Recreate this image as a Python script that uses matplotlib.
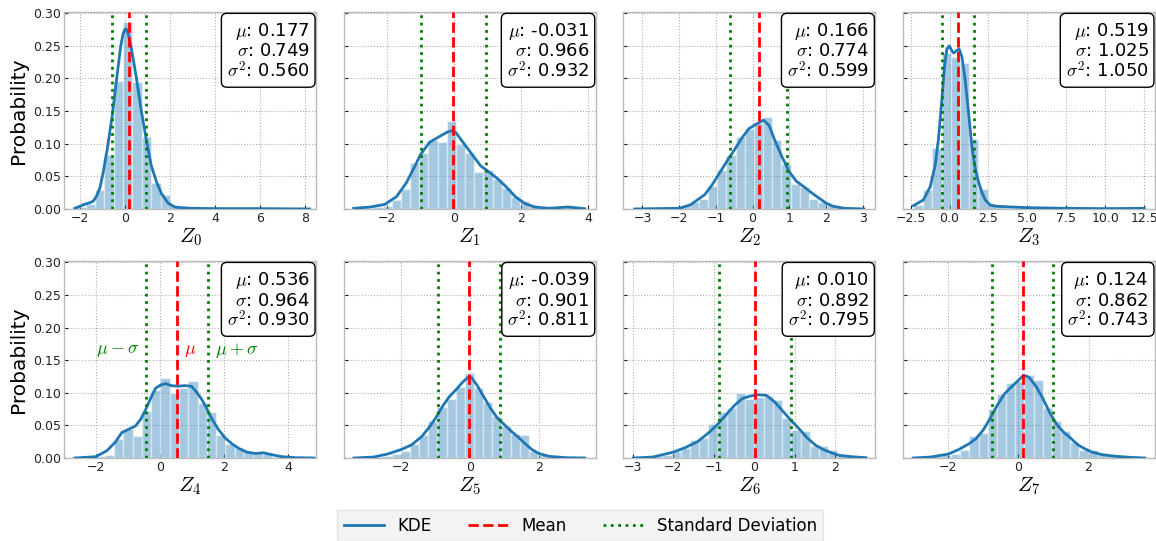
import numpy as np
import matplotlib
matplotlib.use("Agg")
import matplotlib.pyplot as plt
from matplotlib.lines import Line2D

# summary statistics of each latent variable
means = [0.177, -0.031, 0.166, 0.519, 0.536, -0.039, 0.010, 0.124]
stds = [0.749, 0.966, 0.774, 1.025, 0.964, 0.901, 0.892, 0.862]
variances = [0.560, 0.932, 0.599, 1.050, 0.930, 0.811, 0.795, 0.743]

# histogram bin range (25 bins each) and bar heights (probability)
bin_lo = [-2.16, -2.96, -3.21, -2.28, -2.58, -3.34, -2.95, -2.96]
bin_hi = [8.26, 3.88, 3.03, 12.47, 4.645, 3.31, 2.73, 3.57]

z0_hist = [0.003, 0.007, 0.029, 0.083, 0.196, 0.287, 0.195, 0.110, 0.040, 0.022, 0.004, 0.002, 0.001,
           0.001, 0.0, 0.0, 0.0, 0.001, 0.0, 0.0, 0.0, 0.0, 0.0, 0.0, 0.001]
z1_hist = [0.002, 0.002, 0.003, 0.004, 0.014, 0.031, 0.071, 0.085, 0.105, 0.103, 0.135, 0.099, 0.086,
           0.056, 0.059, 0.046, 0.032, 0.019, 0.012, 0.004, 0.001, 0.0, 0.001, 0.003, 0.001]
z2_hist = [0.001, 0.0, 0.0, 0.0, 0.001, 0.004, 0.010, 0.015, 0.035, 0.059, 0.083, 0.111, 0.123,
           0.132, 0.141, 0.106, 0.069, 0.039, 0.034, 0.015, 0.010, 0.006, 0.003, 0.001, 0.001]
z3_hist = [0.006, 0.029, 0.093, 0.239, 0.233, 0.223, 0.107, 0.031, 0.007, 0.003, 0.001, 0.001, 0.0,
           0.001, 0.0, 0.0, 0.0, 0.0, 0.0, 0.0, 0.0, 0.0, 0.0, 0.0, 0.001]
z4_hist = [0.001, 0.002, 0.003, 0.005, 0.029, 0.045, 0.033, 0.072, 0.104, 0.122, 0.100, 0.108, 0.118,
           0.085, 0.071, 0.036, 0.021, 0.015, 0.010, 0.007, 0.007, 0.002, 0.001, 0.0, 0.001]
z5_hist = [0.0005, 0.001, 0.002, 0.003, 0.006, 0.011, 0.022, 0.035, 0.057, 0.078, 0.090, 0.109, 0.131,
           0.107, 0.086, 0.065, 0.049, 0.037, 0.035, 0.011, 0.005, 0.002, 0.001, 0.0005, 0.0005]
z6_hist = [0.001, 0.002, 0.003, 0.004, 0.010, 0.016, 0.028, 0.031, 0.052, 0.071, 0.076, 0.100, 0.091,
           0.094, 0.095, 0.089, 0.062, 0.043, 0.042, 0.019, 0.018, 0.013, 0.005, 0.003, 0.001]
z7_hist = [0.001, 0.002, 0.003, 0.005, 0.006, 0.013, 0.033, 0.039, 0.075, 0.098, 0.115, 0.118, 0.127,
           0.119, 0.076, 0.057, 0.041, 0.025, 0.013, 0.012, 0.007, 0.004, 0.002, 0.001, 0.001]

# KDE curves
z0_kde_x = [-2.22, -2.0, -1.8, -1.6, -1.4, -1.25, -1.1, -0.95, -0.78, -0.56, -0.33, -0.18, -0.08, 0.0,
            0.06, 0.14, 0.27, 0.5, 0.72, 0.95, 1.17, 1.4, 1.62, 1.92, 2.22, 2.5, 3.0, 4.0, 6.0, 8.2]
z0_kde_y = [0.001, 0.004, 0.007, 0.009, 0.012, 0.020, 0.033, 0.058, 0.092, 0.143, 0.209, 0.250, 0.268, 0.275,
            0.276, 0.270, 0.250, 0.204, 0.153, 0.107, 0.067, 0.042, 0.024, 0.009, 0.003, 0.002, 0.001,
            0.0005, 0.0005, 0.0]
z1_kde_x = [-3.0, -2.5, -2.07, -1.72, -1.43, -1.18, -1.01, -0.74, -0.44, -0.2, -0.05, 0.05, 0.25, 0.54,
            0.79, 1.03, 1.28, 1.53, 1.82, 2.12, 2.41, 2.81, 3.1, 3.4, 3.89]
z1_kde_y = [0.001, 0.003, 0.007, 0.019, 0.040, 0.065, 0.083, 0.102, 0.111, 0.118, 0.120, 0.117, 0.103, 0.083,
            0.066, 0.057, 0.047, 0.035, 0.019, 0.008, 0.003, 0.001, 0.002, 0.003, 0.0005]
z2_kde_x = [-3.21, -2.0, -1.7, -1.5, -1.3, -1.1, -0.9, -0.7, -0.5, -0.3, -0.1, 0.1, 0.3, 0.45, 0.6, 0.8,
            1.0, 1.2, 1.4, 1.6, 1.8, 2.0, 2.2, 2.5, 3.03]
z2_kde_y = [0.0, 0.001, 0.006, 0.014, 0.022, 0.037, 0.055, 0.073, 0.090, 0.108, 0.123, 0.130, 0.136, 0.128,
            0.106, 0.080, 0.057, 0.042, 0.034, 0.025, 0.017, 0.009, 0.004, 0.001, 0.0]
z3_kde_x = [-2.31, -1.67, -1.24, -0.92, -0.71, -0.49, -0.32, -0.17, -0.02, 0.11, 0.26, 0.43, 0.62, 0.79,
            1.0, 1.22, 1.43, 1.65, 1.86, 2.07, 2.29, 2.61, 3.03, 4.0, 5.0, 7.5, 10.0, 12.5]
z3_kde_y = [0.005, 0.014, 0.034, 0.067, 0.107, 0.168, 0.219, 0.245, 0.250, 0.244, 0.239, 0.242, 0.245, 0.234,
            0.199, 0.148, 0.097, 0.062, 0.042, 0.026, 0.014, 0.006, 0.004, 0.003, 0.002, 0.001, 0.0005, 0.001]
z4_kde_x = [-2.64, -2.0, -1.65, -1.39, -1.18, -0.97, -0.76, -0.6, -0.44, -0.28, -0.13, 0.03, 0.19, 0.35,
            0.56, 0.77, 0.98, 1.13, 1.29, 1.45, 1.61, 1.82, 2.03, 2.24, 2.45, 2.71, 2.97, 3.23, 3.49,
            3.81, 4.23, 4.8]
z4_kde_y = [0.0, 0.002, 0.011, 0.024, 0.039, 0.044, 0.049, 0.059, 0.074, 0.092, 0.107, 0.112, 0.114, 0.111,
            0.110, 0.111, 0.110, 0.102, 0.091, 0.077, 0.061, 0.044, 0.031, 0.022, 0.015, 0.009, 0.007,
            0.008, 0.005, 0.002, 0.0005, 0.0]
z5_kde_x = [-3.37, -2.8, -2.4, -2.0, -1.7, -1.4, -1.2, -1.0, -0.8, -0.6, -0.4, -0.2, -0.05, 0.05, 0.2,
            0.4, 0.6, 0.8, 1.0, 1.2, 1.4, 1.6, 1.8, 2.0, 2.3, 2.8, 3.33]
z5_kde_y = [0.0, 0.0015, 0.006, 0.013, 0.020, 0.033, 0.046, 0.061, 0.079, 0.094, 0.105, 0.117, 0.124, 0.123,
            0.112, 0.094, 0.076, 0.061, 0.051, 0.041, 0.032, 0.022, 0.013, 0.007, 0.0025, 0.0005, 0.0]
z6_kde_x = [-2.98, -2.5, -2.0, -1.7, -1.4, -1.1, -0.9, -0.7, -0.5, -0.3, -0.1, 0.1, 0.3, 0.5, 0.7, 0.9,
            1.1, 1.3, 1.5, 1.7, 1.9, 2.1, 2.4, 2.75]
z6_kde_y = [0.0, 0.0015, 0.009, 0.016, 0.025, 0.040, 0.052, 0.066, 0.080, 0.091, 0.095, 0.097, 0.096, 0.086,
            0.072, 0.058, 0.045, 0.031, 0.020, 0.013, 0.008, 0.004, 0.002, 0.0005]
z7_kde_x = [-3.0, -2.5, -2.0, -1.7, -1.4, -1.2, -1.0, -0.8, -0.6, -0.4, -0.2, 0.0, 0.15, 0.3, 0.5, 0.7,
            0.9, 1.1, 1.3, 1.5, 1.7, 1.9, 2.1, 2.4, 2.8, 3.2, 3.6]
z7_kde_y = [0.0, 0.0015, 0.006, 0.013, 0.022, 0.030, 0.043, 0.061, 0.081, 0.098, 0.109, 0.119, 0.127, 0.124,
            0.110, 0.091, 0.069, 0.051, 0.039, 0.030, 0.020, 0.014, 0.009, 0.005, 0.0025, 0.001, 0.0]

# visible x range and x ticks of each panel
x_limits = [(-2.70, 8.49), (-3.30, 4.22), (-3.52, 3.34), (-2.99, 13.18),
            (-2.98, 4.86), (-3.67, 3.65), (-3.23, 2.98), (-3.29, 3.89)]
x_ticks = [[-2, 0, 2, 4, 6, 8], [-2, 0, 2, 4], [-3, -2, -1, 0, 1, 2, 3],
           [-2.5, 0.0, 2.5, 5.0, 7.5, 10.0, 12.5], [-2, 0, 2, 4], [-2, 0, 2],
           [-3, -2, -1, 0, 1, 2], [-2, 0, 2]]

hists = [z0_hist, z1_hist, z2_hist, z3_hist, z4_hist, z5_hist, z6_hist, z7_hist]
kdes = [(z0_kde_x, z0_kde_y), (z1_kde_x, z1_kde_y), (z2_kde_x, z2_kde_y), (z3_kde_x, z3_kde_y),
        (z4_kde_x, z4_kde_y), (z5_kde_x, z5_kde_y), (z6_kde_x, z6_kde_y), (z7_kde_x, z7_kde_y)]

plt.rcParams['font.family'] = 'DejaVu Sans'
plt.rcParams['mathtext.fontset'] = 'cm'

blue = '#1f77b4'

fig, axes = plt.subplots(2, 4, figsize=(11.56, 5.41), dpi=100, sharey=True)
fig.subplots_adjust(left=0.0554, right=0.999, top=0.978, bottom=0.1534, wspace=0.11, hspace=0.264)

for i, ax in enumerate(axes.flat):
    heights = hists[i]
    edges = np.linspace(bin_lo[i], bin_hi[i], len(heights) + 1)
    ax.bar(edges[:-1], heights, width=np.diff(edges), align='edge', color=blue, alpha=0.4,
           edgecolor='white', linewidth=1, zorder=2)
    kx, ky = kdes[i]
    ax.plot(kx, ky, color=blue, lw=2, zorder=3, solid_joinstyle='round')

    mu, sd = means[i], stds[i]
    ax.axvline(mu, color='red', ls='--', lw=2, zorder=4)
    ax.axvline(mu - sd, color='green', ls=':', lw=2, zorder=4)
    ax.axvline(mu + sd, color='green', ls=':', lw=2, zorder=4)

    ax.text(0.975, 0.955, '$\\mu$: %.3f\n$\\sigma$: %.3f\n$\\sigma^2$: %.3f' % (mu, sd, variances[i]),
            transform=ax.transAxes, ha='right', va='top', fontsize=13, linespacing=1.05, zorder=6,
            bbox=dict(boxstyle='round,pad=0.3', fc='white', ec='black', lw=1))

    ax.set_xticks(x_ticks[i])
    ax.set_xlim(x_limits[i])
    ax.set_ylim(0, 0.302)
    ax.set_xlabel('$Z_%d$' % i, fontsize=15, labelpad=1)
    ax.grid(True, color='#b0b0b0', ls=':', lw=0.8, zorder=0)
    ax.set_axisbelow(True)
    ax.tick_params(direction='in', length=3, width=0.8, labelsize=9, colors='#222222', pad=2)
    for s in ax.spines.values():
        s.set_color('#bbbbbb')
        s.set_linewidth(1)

for ax in axes[:, 0]:
    ax.set_ylabel('Probability', fontsize=14.5)
    ax.set_yticks([0, 0.05, 0.10, 0.15, 0.20, 0.25, 0.30])
    ax.set_yticklabels(['0.00', '0.05', '0.10', '0.15', '0.20', '0.25', '0.30'])

# annotate the reference lines in Z_4
ax4 = axes[1, 0]
m4, s4 = means[4], stds[4]
ax4.annotate('$\\mu - \\sigma$', xy=(m4 - s4, 0.165), xytext=(-5, 0), textcoords='offset points',
             ha='right', va='center', color='green', fontsize=13)
ax4.annotate('$\\mu$', xy=(m4, 0.165), xytext=(5, 0), textcoords='offset points',
             ha='left', va='center', color='red', fontsize=13)
ax4.annotate('$\\mu + \\sigma$', xy=(m4 + s4, 0.165), xytext=(5, 0), textcoords='offset points',
             ha='left', va='center', color='green', fontsize=13)

handles = [Line2D([], [], color=blue, lw=2),
           Line2D([], [], color='red', ls='--', lw=2),
           Line2D([], [], color='green', ls=':', lw=2)]
leg = fig.legend(handles, ['KDE', 'Mean', 'Standard Deviation'], loc='upper center',
                 bbox_to_anchor=(0.502, 0.073), ncol=3, fontsize=12, frameon=True,
                 fancybox=False, handlelength=2.4, columnspacing=2.2, handletextpad=0.8)
leg.get_frame().set_facecolor('#f0f0f0')
leg.get_frame().set_edgecolor('#e0e0e0')

fig.savefig('out.png', dpi=100)
